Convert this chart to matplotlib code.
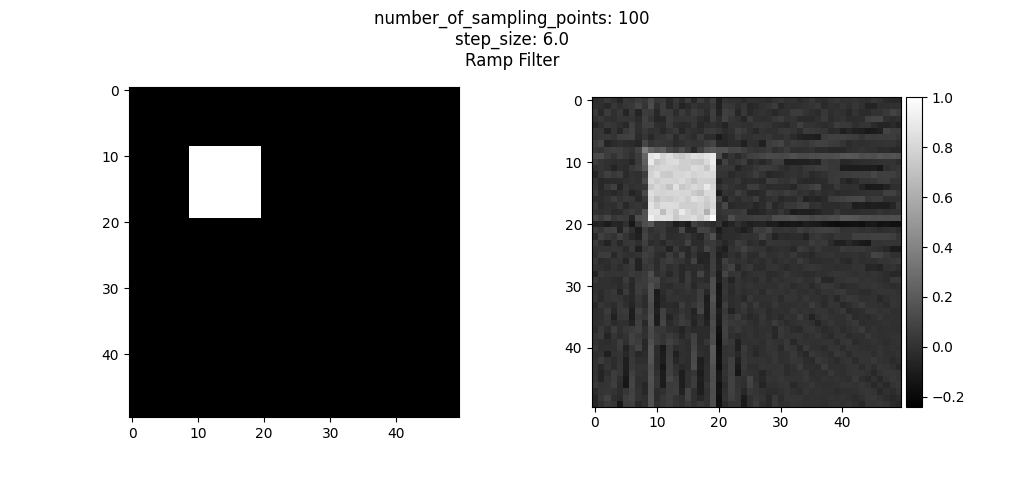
import numpy as np
import matplotlib.pyplot as plt

# Phantom: 50x50 image with a bright square
image_size = 50
square_rows = (9, 20)
square_cols = (9, 20)

# Scan settings (from the title)
number_of_sampling_points = 100
step_size = 6.0
filter_name = "Ramp Filter"

# Colour range
color_min = -0.24
color_max = 1.0

phantom = np.zeros((image_size, image_size))
phantom[square_rows[0]:square_rows[1], square_cols[0]:square_cols[1]] = 1.0

# Sinogram: ray sampling with nearest-neighbour lookup
angles = np.deg2rad(np.arange(0, 180, step_size))
center = (image_size - 1) / 2
radius = image_size / np.sqrt(2)
det = np.linspace(-radius, radius, number_of_sampling_points)
d_det = det[1] - det[0]
along = np.arange(-radius, radius, 0.5)

sinogram = np.zeros((len(angles), len(det)))
for k, a in enumerate(angles):
    ca, sa = np.cos(a), np.sin(a)
    xs = center + det[:, None] * ca - along[None, :] * sa
    ys = center + det[:, None] * sa + along[None, :] * ca
    xi = np.rint(xs).astype(int)
    yi = np.rint(ys).astype(int)
    ok = (xi >= 0) & (xi < image_size) & (yi >= 0) & (yi < image_size)
    vals = np.where(ok, phantom[np.clip(yi, 0, image_size - 1), np.clip(xi, 0, image_size - 1)], 0)
    sinogram[k] = vals.sum(axis=1) * 0.5

# Ramp (Ram-Lak) filter in the spatial domain
m = number_of_sampling_points
n = np.arange(-m + 1, m)
kernel = np.zeros(len(n))
kernel[n == 0] = 0.25
odd = (n % 2) != 0
kernel[odd] = -1.0 / (np.pi ** 2 * n[odd] ** 2)
kernel /= d_det
filtered = np.array([np.convolve(p, kernel)[m - 1:2 * m - 1] for p in sinogram])

# Back projection
yy, xx = np.mgrid[0:image_size, 0:image_size]
xx = xx - center
yy = yy - center
recon = np.zeros((image_size, image_size))
for k, a in enumerate(angles):
    sp = xx * np.cos(a) + yy * np.sin(a)
    idx = np.rint((sp + radius) / d_det).astype(int)
    idx = np.clip(idx, 0, m - 1)
    recon += filtered[k][idx]
recon *= np.pi / len(angles)
recon /= recon.max()

fig = plt.figure(figsize=(10.24, 5.04), dpi=100)
fig.suptitle("number_of_sampling_points: %d\nstep_size: %.1f\n%s"
             % (number_of_sampling_points, step_size, filter_name))

ax1 = fig.add_axes([0.125, 0.1726, 0.324, 0.655])
ax1.imshow(phantom, cmap="gray")

ax2 = fig.add_axes([0.578, 0.1925, 0.302, 0.615])
im = ax2.imshow(recon, cmap="gray", vmin=color_min, vmax=color_max)
cax = fig.add_axes([0.885, 0.1925, 0.015, 0.615])
fig.colorbar(im, cax=cax)

fig.savefig("out.png", dpi=100)
